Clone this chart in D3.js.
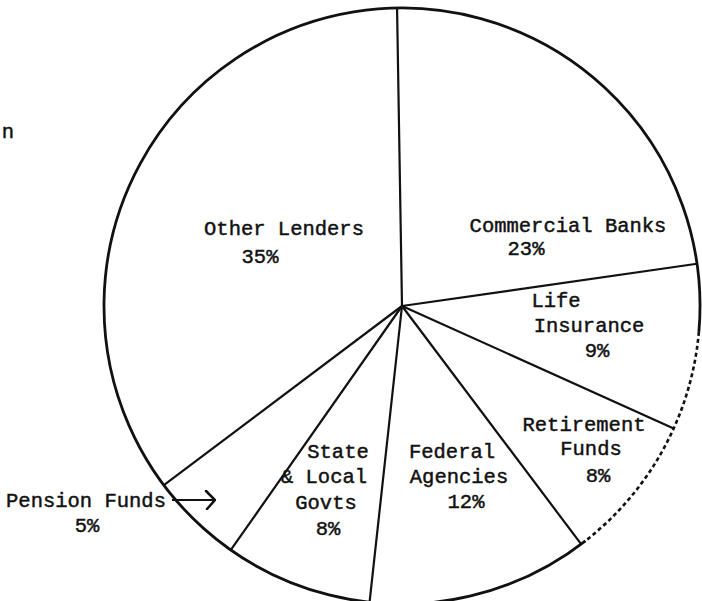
<!DOCTYPE html>
<html>
<head>
<meta charset="utf-8">
<script src="https://cdn.jsdelivr.net/npm/d3@7"></script>
<style>
  html, body { margin: 0; padding: 0; background: #fff; }
  svg { display: block; }
  text { font-family: "Liberation Mono", "DejaVu Sans Mono", monospace; fill: #111; stroke: #111; stroke-width: 0.45px; }
</style>
</head>
<body>
<script>
// data (percent of total)
const sectors = ["Commercial Banks", "Life Insurance", "Retirement Funds", "Federal Agencies",
                 "State & Local Govts", "Pension Funds", "Other Lenders"];
const shares  = [23, 9, 8, 12, 8, 5, 35];
const shareLabels = ["23%", "9%", "8%", "12%", "8%", "5%", "35%"];

// how each label is broken over lines
const labelLines = [
    ["Commercial Banks", "23%"],
    ["Life", "Insurance", "9%"],
    ["Retirement", "Funds", "8%"],
    ["Federal", "Agencies", "12%"],
    ["State", "& Local", "Govts", "8%"],
    ["Pension Funds", "5%"],
    ["Other Lenders", "35%"]
];

// layout
const width = 702, height = 601;
const cx = 402, cy = 306, radius = 298;
const startDeg = -0.95;   // first cut sits just left of 12 o'clock

// where each text line sits, relative to the pie centre (middle of baseline)
const labelPos = [
    [[166, -74], [124, -51]],
    [[154, 1], [187, 26], [195, 51]],
    [[182, 125], [189, 149], [196, 176]],
    [[50, 152], [57, 177], [64, 202]],
    [[-64, 152], [-78, 177], [-76, 203], [-74, 229]],
    [[-316, 201], [-315, 226]],
    [[-118, -71], [-142, -43]]
];

const svg = d3.select('body').append('svg')
    .attr('width', width)
    .attr('height', height);

svg.append('defs').append('marker')
    .attr('id', 'chevron')
    .attr('viewBox', '0 -10 14 20')
    .attr('refX', 13)
    .attr('refY', 0)
    .attr('orient', 'auto')
    .attr('markerUnits', 'userSpaceOnUse')
    .attr('markerWidth', 14)
    .attr('markerHeight', 20)
    .append('path')
    .attr('d', 'M 4,-9 L 13,0 L 5,9')
    .attr('fill', 'none')
    .attr('stroke', '#111')
    .attr('stroke-width', 2.6)
    .attr('stroke-linecap', 'round');

const g = svg.append('g').attr('transform', `translate(${cx},${cy})`);

const toRad = d => d * Math.PI / 180;
const pie = d3.pie().sort(null).value(d => d)
    .startAngle(toRad(startDeg))
    .endAngle(toRad(startDeg) + 2 * Math.PI);
const arcs = pie(shares);

// white slices (outline drawn separately so part of the rim can be broken like the scan)
const arc = d3.arc().innerRadius(0).outerRadius(radius);
g.selectAll('.slice')
    .data(arcs)
    .enter().append('path')
    .attr('class', 'slice')
    .attr('d', arc)
    .attr('fill', '#fff');

// outer rim: mostly solid, dotted on the lower right
function rimPath(a0, a1) {
    const p = d3.path();
    p.arc(0, 0, radius, a0 - Math.PI / 2, a1 - Math.PI / 2);
    return p.toString();
}
const brokenFrom = toRad(95), brokenTo = toRad(142);
g.append('path')
    .attr('d', rimPath(brokenTo, brokenFrom + 2 * Math.PI))
    .attr('fill', 'none')
    .attr('stroke', '#111')
    .attr('stroke-width', 2.8);
g.append('path')
    .attr('d', rimPath(brokenFrom, brokenTo))
    .attr('fill', 'none')
    .attr('stroke', '#111')
    .attr('stroke-width', 2.6)
    .attr('stroke-dasharray', '4 3');

// the cuts between slices
g.selectAll('.cut')
    .data(arcs)
    .enter().append('line')
    .attr('class', 'cut')
    .attr('x1', 0)
    .attr('y1', 0)
    .attr('x2', d => d3.pointRadial(d.startAngle, radius)[0])
    .attr('y2', d => d3.pointRadial(d.startAngle, radius)[1])
    .attr('stroke', '#111')
    .attr('stroke-width', 2.2);

// labels
arcs.forEach((d, i) => {
    const lines = labelLines[i];
    g.selectAll(null)
        .data(lines)
        .enter().append('text')
        .attr('x', (t, j) => labelPos[i][j][0])
        .attr('y', (t, j) => labelPos[i][j][1])
        .attr('text-anchor', 'middle')
        .style('font-size', '20.5px')
        .text(t => t);
});

// pension funds pointer
g.append('line')
    .attr('x1', -230).attr('y1', 194)
    .attr('x2', -187).attr('y2', 194)
    .attr('stroke', '#111')
    .attr('stroke-width', 2.2)
    .attr('marker-end', 'url(#chevron)');

// cut-off word at the left edge of the scan
svg.append('text')
    .attr('x', 14)
    .attr('y', 138)
    .attr('text-anchor', 'end')
    .style('font-size', '20.5px')
    .text('n');
</script>
</body>
</html>
